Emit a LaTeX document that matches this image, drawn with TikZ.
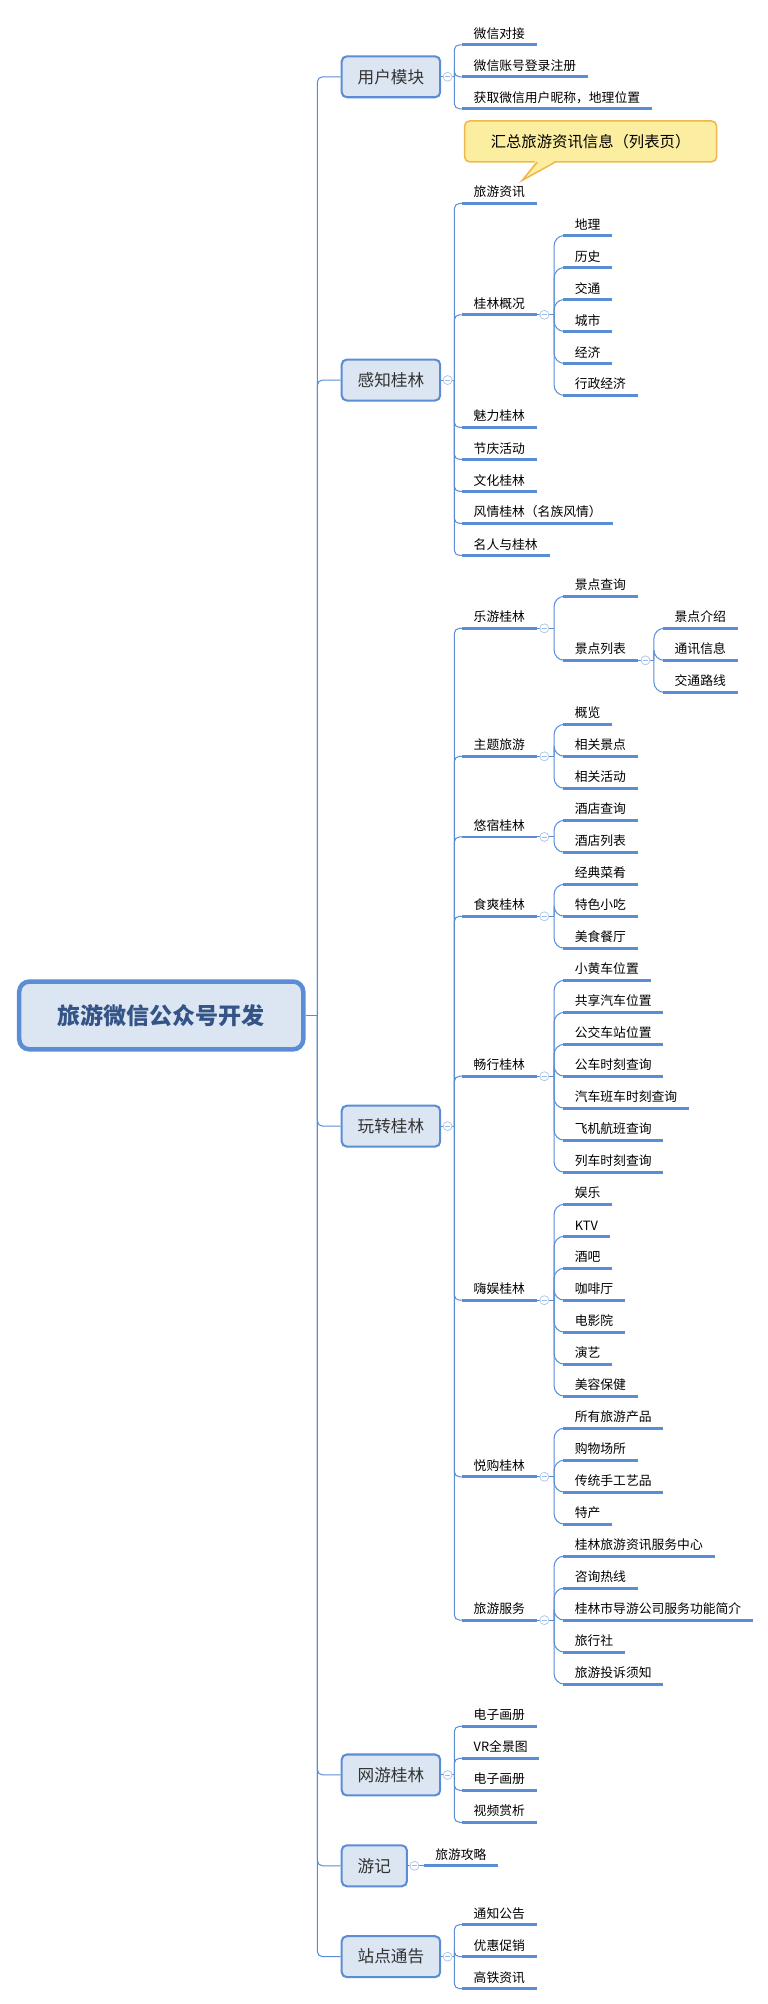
\documentclass[tikz,border=0pt]{standalone}
\usepackage{fontspec}
\setmainfont{Noto Sans CJK SC}
\usetikzlibrary{positioning}
\definecolor{lineblue}{RGB}{91,141,212}
\definecolor{boxfill}{RGB}{220,230,242}
\definecolor{roottext}{RGB}{52,84,136}
\definecolor{notefill}{RGB}{252,238,160}
\definecolor{notedraw}{RGB}{240,184,76}
\tikzset{
  conn/.style={draw=lineblue, line width=0.8pt, rounded corners=4pt},
  uline/.style={draw=lineblue, line width=2.2pt},
  leaf/.style={anchor=south west, inner xsep=9pt, inner ysep=4pt,
    font=\fontsize{10}{12}\selectfont,
    append after command={(\tikzlastnode.south west) edge[uline] (\tikzlastnode.south east)}},
  topic/.style={draw=lineblue, fill=boxfill, line width=1.6pt, rounded corners=4pt,
    minimum width=77pt, minimum height=32pt, font=\fontsize{13}{15}\selectfont, text=black!80},
  fold/.style={circle, draw=lineblue!50, fill=white, line width=0.6pt, inner sep=0pt,
    minimum size=7pt, path picture={\draw[lineblue!60] (path picture bounding box.west) ++(1.5pt,0) -- ++(4pt,0);}}
}
\begin{document}
\begin{tikzpicture}[x=1pt,y=-1pt]
\useasboundingbox (0,0) rectangle (600,1566);
% root
\node[draw=lineblue, fill=boxfill, line width=3.5pt, rounded corners=8pt, minimum width=222pt,
  minimum height=53pt, font=\fontsize{18}{20}\selectfont\bfseries, text=roottext] (root) at (126,793.5) {旅游微信公众号开发};
\coordinate (trunk) at (248,793.5);
% main topics
\node[topic] (m1) at (305.5,60) {用户模块};
\node[topic] (m2) at (305.5,297) {感知桂林};
\node[topic] (m3) at (305.5,880) {玩转桂林};
\node[topic] (m4) at (305.5,1387) {网游桂林};
\node[topic, minimum width=51pt] (m5) at (292.5,1458) {游记};
\node[topic] (m6) at (305.5,1529) {站点通告};
% 用户模块
\node[leaf] (a1) at (361,35) {微信对接};
\node[leaf] (a2) at (361,60) {微信账号登录注册};
\node[leaf] (a3) at (361,85) {获取微信用户昵称，地理位置};
% 感知桂林
\node[leaf] (b1) at (361,159) {旅游资讯};
\node[leaf] (b2) at (361,246) {桂林概况};
\node[leaf] (b3) at (361,334) {魅力桂林};
\node[leaf] (b4) at (361,359) {节庆活动};
\node[leaf] (b5) at (361,384) {文化桂林};
\node[leaf] (b6) at (361,409) {风情桂林（名族风情）};
\node[leaf] (b7) at (361,434) {名人与桂林};
\node[leaf] (b21) at (440,184) {地理};
\node[leaf] (b22) at (440,209) {历史};
\node[leaf] (b23) at (440,234) {交通};
\node[leaf] (b24) at (440,259) {城市};
\node[leaf] (b25) at (440,284) {经济};
\node[leaf] (b26) at (440,309) {行政经济};
% callout
\node[draw=notedraw, fill=notefill, line width=1.2pt, rounded corners=4pt, minimum width=197pt,
  minimum height=32pt, font=\fontsize{12}{14}\selectfont] (note) at (461.5,110.5) {汇总旅游资讯信息（列表页）};
\fill[notefill] (419,125) -- (408,141) -- (435,125) -- cycle;
\draw[notedraw, line width=1.2pt] (420,126.6) -- (408,141) -- (434,126.6);
% 玩转桂林
\node[leaf] (c1) at (361,491) {乐游桂林};
\node[leaf] (c2) at (361,591) {主题旅游};
\node[leaf] (c3) at (361,654) {悠宿桂林};
\node[leaf] (c4) at (361,716) {食爽桂林};
\node[leaf] (c5) at (361,841) {畅行桂林};
\node[leaf] (c6) at (361,1016) {嗨娱桂林};
\node[leaf] (c7) at (361,1154) {悦购桂林};
\node[leaf] (c8) at (361,1266) {旅游服务};
\node[leaf] (c11) at (440,466) {景点查询};
\node[leaf] (c12) at (440,516) {景点列表};
\node[leaf] (c121) at (518,491) {景点介绍};
\node[leaf] (c122) at (518,516) {通讯信息};
\node[leaf] (c123) at (518,541) {交通路线};
\node[leaf] (c21) at (440,566) {概览};
\node[leaf] (c22) at (440,591) {相关景点};
\node[leaf] (c23) at (440,616) {相关活动};
\node[leaf] (c31) at (440,641) {酒店查询};
\node[leaf] (c32) at (440,666) {酒店列表};
\node[leaf] (c41) at (440,691) {经典菜肴};
\node[leaf] (c42) at (440,716) {特色小吃};
\node[leaf] (c43) at (440,741) {美食餐厅};
\node[leaf] (c51) at (440,766) {小黄车位置};
\node[leaf] (c52) at (440,791) {共享汽车位置};
\node[leaf] (c53) at (440,816) {公交车站位置};
\node[leaf] (c54) at (440,841) {公车时刻查询};
\node[leaf] (c55) at (440,866) {汽车班车时刻查询};
\node[leaf] (c56) at (440,891) {飞机航班查询};
\node[leaf] (c57) at (440,916) {列车时刻查询};
\node[leaf] (c61) at (440,941) {娱乐};
\node[leaf] (c62) at (440,966) {KTV};
\node[leaf] (c63) at (440,991) {酒吧};
\node[leaf] (c64) at (440,1016) {咖啡厅};
\node[leaf] (c65) at (440,1041) {电影院};
\node[leaf] (c66) at (440,1066) {演艺};
\node[leaf] (c67) at (440,1091) {美容保健};
\node[leaf] (c71) at (440,1116) {所有旅游产品};
\node[leaf] (c72) at (440,1141) {购物场所};
\node[leaf] (c73) at (440,1166) {传统手工艺品};
\node[leaf] (c74) at (440,1191) {特产};
\node[leaf] (c81) at (440,1216) {桂林旅游资讯服务中心};
\node[leaf] (c82) at (440,1241) {咨询热线};
\node[leaf] (c83) at (440,1266) {桂林市导游公司服务功能简介};
\node[leaf] (c84) at (440,1291) {旅行社};
\node[leaf] (c85) at (440,1316) {旅游投诉须知};
% 网游桂林, 游记, 站点通告
\node[leaf] (d1) at (361,1349) {电子画册};
\node[leaf] (d2) at (361,1374) {VR全景图};
\node[leaf] (d3) at (361,1399) {电子画册};
\node[leaf] (d4) at (361,1424) {视频赏析};
\node[leaf] (e1) at (331,1458) {旅游攻略};
\node[leaf] (f1) at (361,1504) {通知公告};
\node[leaf] (f2) at (361,1529) {优惠促销};
\node[leaf] (f3) at (361,1554) {高铁资讯};

% connectors
\draw[conn] (root.east) -- (trunk);
\foreach \m in {m1,m2,m3,m4,m5,m6}
  \draw[conn] (trunk) |- (\m.west);
\foreach \p/\x/\kids in {m1/355/{a1,a2,a3}, m2/355/{b1,b2,b3,b4,b5,b6,b7},
    m3/355/{c1,c2,c3,c4,c5,c6,c7,c8}, m4/355/{d1,d2,d3,d4}, m6/355/{f1,f2,f3}}{
  \draw[conn] (\p.east) -- (\x,0 |- \p.east) coordinate (k);
  \foreach \c in \kids \draw[conn] (k) |- (\c.south west);
}
\foreach \p/\x/\kids in {b2/433/{b21,b22,b23,b24,b25,b26}, c1/433/{c11,c12},
    c12/511/{c121,c122,c123}, c2/433/{c21,c22,c23}, c3/433/{c31,c32}, c4/433/{c41,c42,c43},
    c5/433/{c51,c52,c53,c54,c55,c56,c57}, c6/433/{c61,c62,c63,c64,c65,c66,c67},
    c7/433/{c71,c72,c73,c74}, c8/433/{c81,c82,c83,c84,c85}}{
  \draw[conn] (\p.south east) -- (\x,0 |- \p.south east) coordinate (k);
  \foreach \c in \kids \draw[conn, rounded corners=8pt] (k) |- (\c.south west);
}
\draw[conn] (m5.east) -- (e1.south west);
% fold marks
\foreach \p in {m1,m2,m3,m4,m5,m6}
  \node[fold] at ([xshift=5pt]\p.east) {};
\foreach \p in {b2,c1,c12,c2,c3,c4,c5,c6,c7,c8}
  \node[fold] at ([xshift=6pt]\p.south east) {};
\end{tikzpicture}
\end{document}
